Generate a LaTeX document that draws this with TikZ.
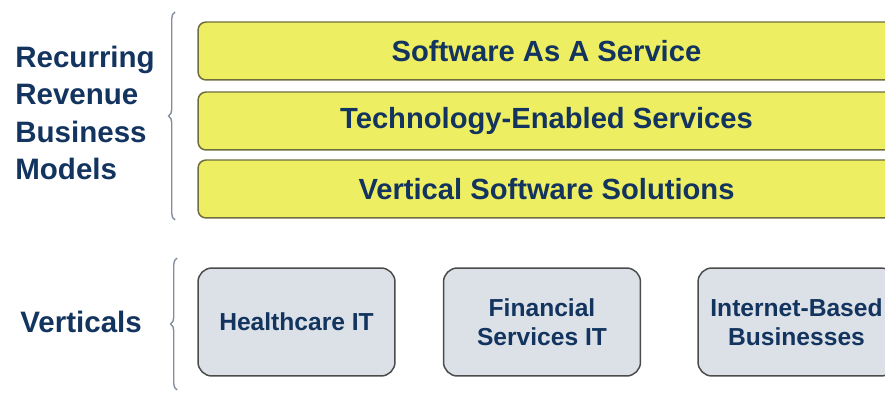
\documentclass[tikz,border=0pt]{standalone}
\usepackage{fontspec}
\setmainfont{Liberation Sans}
\usetikzlibrary{decorations.pathreplacing}
\definecolor{navy}{RGB}{18,52,94}
\definecolor{barfill}{RGB}{238,238,98}
\definecolor{barline}{RGB}{110,110,60}
\definecolor{boxfill}{RGB}{220,225,232}
\definecolor{boxline}{RGB}{75,75,75}
\definecolor{braceline}{RGB}{130,142,155}
\begin{document}
\begin{tikzpicture}[x=0.02cm, y=0.02cm,
    model/.style={draw=barline, line width=0.85pt, fill=barfill, rounded corners=0.16cm,
        minimum width=13.94cm, minimum height=1.16cm, inner sep=0pt,
        text=navy, font=\fontsize{16.6}{20}\selectfont\bfseries},
    vertical/.style={draw=boxline, line width=0.85pt, fill=boxfill, rounded corners=0.28cm,
        minimum width=3.94cm, minimum height=2.16cm, inner sep=0pt, align=center,
        text=navy, font=\fontsize{14}{16.5}\selectfont\bfseries},
    label/.style={anchor=west, align=left, inner sep=0pt, text=navy,
        font=\fontsize{16.8}{21.3}\selectfont\bfseries},
    curly/.style={draw=braceline, line width=0.8pt, decorate,
        decoration={brace, amplitude=0.13cm}}]
    \useasboundingbox (0,0) rectangle (885,392);
    \clip (0,0) rectangle (885,392);
    \node[model] (saas) at (546.5,341){Software As A Service};
    \node[model] (tes) at (546.5,271){Technology-Enabled Services};
    \node[model] (vss) at (546.5,203){Vertical Software Solutions};
    \node[vertical] (hit) at (296.5,70){Healthcare IT};
    \node[vertical] (fsit) at (542,70){Financial\\Services IT};
    \node[vertical] (ibb) at (796.5,70){Internet-Based\\Businesses};
    \node[label] (models) at (15,279){Recurring\\Revenue\\Business\\Models};
    \node[label] (verticals) at (20,70){Verticals};
    \coordinate (mbot) at (175,172);
    \coordinate (mtop) at (175,380);
    \coordinate (vbot) at (177,2);
    \coordinate (vtop) at (177,134);
    \draw[curly] (mbot) -- (mtop);
    \draw[curly] (vbot) -- (vtop);
\end{tikzpicture}
\end{document}
